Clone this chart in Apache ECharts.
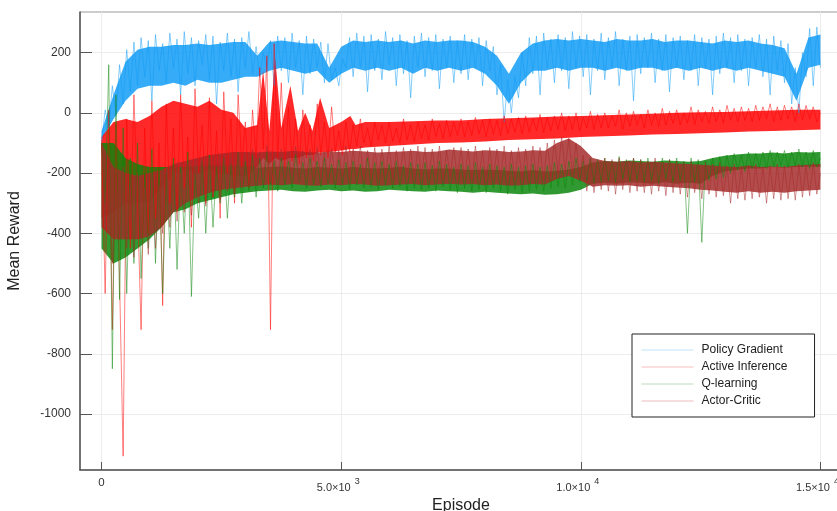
<!DOCTYPE html>
<html><head><meta charset="utf-8">
<script src="https://cdn.jsdelivr.net/npm/echarts@6/dist/echarts.min.js"></script>
<style>html,body{margin:0;padding:0;background:#fff}#c{width:837px;height:511px}</style>
</head><body><div id="c"></div>
<script>
// ---- episode samples for the spiky traces ----
const episodes = [0,75,150,225,300,375,450,525,600,675,750,825,900,975,1050,1125,1200,1275,1350,1425,1500,1575,1650,1725,1800,1875,1950,2025,2100,2175,2250,2325,2400,2475,2550,2625,2700,2775,2850,2925,3000,3075,3150,3225,3300,3375,3450,3525,3600,3675,3750,3825,3900,3975,4050,4125,4200,4275,4350,4425,4500,4575,4650,4725,4800,4875,4950,5025,5100,5175,5250,5325,5400,5475,5550,5625,5700,5775,5850,5925,6000,6075,6150,6225,6300,6375,6450,6525,6600,6675,6750,6825,6900,6975,7050,7125,7200,7275,7350,7425,7500,7575,7650,7725,7800,7875,7950,8025,8100,8175,8250,8325,8400,8475,8550,8625,8700,8775,8850,8925,9000,9075,9150,9225,9300,9375,9450,9525,9600,9675,9750,9825,9900,9975,10050,10125,10200,10275,10350,10425,10500,10575,10650,10725,10800,10875,10950,11025,11100,11175,11250,11325,11400,11475,11550,11625,11700,11775,11850,11925,12000,12075,12150,12225,12300,12375,12450,12525,12600,12675,12750,12825,12900,12975,13050,13125,13200,13275,13350,13425,13500,13575,13650,13725,13800,13875,13950,14025,14100,14175,14250,14325,14400,14475,14550,14625,14700,14775,14850,14925,15000];

const policyGradient = [
-100,10,-50,90,-10,160,30,210,70,235,
90,250,120,240,40,260,140,230,100,265,
150,245,60,270,130,250,90,240,160,260,
110,255,30,235,140,265,120,245,70,250,
150,270,130,220,120,200,150,240,90,255,
140,250,100,265,150,240,60,255,130,245,
150,235,100,230,110,150,90,180,150,250,
120,265,150,255,70,260,140,245,110,270,
160,250,90,260,130,240,50,255,150,265,
120,250,140,260,80,245,150,255,100,240,
130,260,110,245,150,250,90,240,140,220,
60,160,-30,110,0,120,50,200,90,250,
130,255,60,265,150,245,100,260,140,250,
80,270,150,255,120,260,60,245,140,265,
110,250,150,270,90,245,140,255,40,260,
130,250,150,265,100,245,140,260,70,250,
150,255,110,240,140,260,90,250,150,245,
60,255,130,265,150,250,100,260,140,245,
90,250,150,260,120,245,60,255,140,240,
100,230,30,150,0,200,120,280,90,285,150];

const activeInference = [
-90,-600,10,-720,-40,-550,-1140,-20,-450,60,
-300,-720,-50,-400,40,-350,-100,-640,30,-300,
-50,-330,60,-250,-80,-380,80,-200,-40,-300,
50,-280,-60,-350,70,-200,-20,-300,60,-180,
-30,-250,10,-150,150,-120,190,-720,230,-150,
100,-180,20,-160,-20,-170,10,-150,-40,-160,
30,-140,-30,-150,20,-130,-60,-140,-30,-130,
-40,-110,-20,-100,-50,-110,-30,-90,-40,-100,
-30,-95,-50,-100,-20,-90,-40,-95,-30,-85,
-40,-90,-20,-80,-35,-85,-25,-80,-30,-75,
-20,-80,-30,-75,-15,-70,-25,-80,-20,-70,
-25,-75,-10,-70,-20,-65,-15,-70,-10,-65,
-20,-60,-5,-65,-15,-60,-10,-55,0,-60,
-10,-55,0,-60,-15,-50,5,-55,-5,-50,
0,-50,-10,-45,10,-55,0,-45,5,-40,
-5,-50,10,-40,0,-45,15,-40,5,-35,
10,-40,0,-35,20,-40,10,-30,5,-35,
20,-30,10,-35,25,-25,15,-30,20,-25,
15,-30,25,-25,20,-20,30,-30,20,-25,
25,-20,20,-30,30,-25,25,-20,20,-30,0];

const qLearning = [
-100,-300,160,-850,60,-620,-50,-600,-150,-500,
-100,-550,-200,-450,-120,-500,-180,-600,-200,-450,
-150,-520,-180,-400,-130,-610,-200,-350,-160,-400,
-140,-380,-180,-300,-150,-350,-170,-280,-130,-300,
-160,-260,-140,-280,-150,-250,-130,-240,-160,-260,
-150,-240,-160,-250,-140,-230,-165,-250,-150,-240,
-160,-245,-150,-235,-170,-250,-155,-240,-165,-255,
-160,-240,-170,-250,-150,-245,-165,-255,-160,-240,
-170,-250,-160,-245,-175,-260,-165,-250,-170,-255,
-165,-250,-175,-260,-160,-245,-170,-255,-180,-265,
-170,-250,-175,-260,-165,-255,-180,-265,-170,-250,
-175,-260,-180,-270,-170,-255,-180,-265,-175,-260,
-170,-255,-180,-260,-175,-250,-165,-245,-170,-250,
-160,-240,-150,-230,-160,-225,-150,-235,-155,-230,
-150,-225,-160,-230,-145,-220,-155,-230,-150,-225,
-155,-230,-150,-225,-160,-235,-150,-220,-155,-230,
-150,-225,-160,-400,-150,-230,-155,-430,-160,-225,
-150,-220,-145,-215,-140,-200,-135,-190,-140,-195,
-130,-185,-135,-180,-130,-185,-125,-180,-130,-175,
-125,-180,-130,-175,-120,-180,-130,-185,-125,-180,-150];

const actorCritic = [
-100,-300,-150,-500,-200,-420,-180,-450,-250,-480,
-200,-420,-250,-470,-220,-450,-240,-400,-200,-380,
-180,-360,-200,-330,-170,-340,-190,-300,-160,-310,
-150,-280,-170,-290,-140,-260,-160,-270,-130,-250,
-140,-240,-120,-230,-130,-220,-110,-230,-130,-220,
-120,-220,-130,-210,-110,-225,-125,-215,-120,-220,
-115,-215,-130,-220,-120,-210,-125,-215,-110,-220,
-120,-210,-110,-225,-125,-215,-115,-220,-120,-210,
-110,-220,-125,-210,-115,-215,-120,-230,-110,-210,
-115,-220,-120,-215,-110,-225,-125,-210,-115,-220,
-115,-220,-120,-225,-110,-215,-125,-230,-115,-220,
-120,-225,-110,-230,-125,-220,-115,-225,-120,-230,
-110,-220,-115,-225,-100,-210,-90,-200,-80,-190,
-85,-200,-100,-215,-140,-260,-150,-265,-160,-255,
-150,-260,-155,-270,-150,-255,-160,-265,-150,-260,
-155,-265,-160,-270,-150,-260,-165,-275,-155,-265,
-160,-270,-165,-280,-160,-265,-170,-285,-165,-270,
-170,-280,-165,-275,-175,-300,-170,-285,-180,-290,
-175,-285,-170,-280,-180,-300,-175,-285,-170,-290,
-175,-285,-180,-290,-170,-280,-175,-275,-165,-270,-200];

// ---- dense core of each trace ----
const bandEpisodes = [0,250,500,750,1000,1250,1500,1750,2000,2250,2500,2750,3000,3250,3500,3750,4000,4250,4500,4750,5000,5250,5500,5750,6000,6250,6500,6750,7000,7250,7500,7750,8000,8250,8500,8750,9000,9250,9500,9750,10000,10250,10500,10750,11000,11250,11500,11750,12000,12250,12500,12750,13000,13250,13500,13750,14000,14250,14500,14750,15000];

const pgCoreLow = [-90,-20,40,80,90,90,100,90,110,100,100,110,120,120,140,150,140,130,140,100,130,150,140,150,140,150,130,150,140,150,140,150,130,90,30,100,140,140,150,140,150,150,140,150,140,150,150,140,150,140,150,140,150,140,150,140,130,120,40,150,160];
const pgCoreHigh = [-60,60,170,210,220,220,225,225,230,225,230,235,235,190,235,240,235,230,230,150,220,240,235,240,235,240,230,240,235,240,240,235,220,190,130,200,230,240,245,240,245,240,235,245,240,240,245,235,240,240,235,230,240,235,240,230,225,215,130,250,260];

const aiCoreEpisodes = [0,250,500,750,1000,1250,1500,1750,2000,2250,2500,2750,3000,3250,3370,3500,3625,3750,3940,4100,4250,4400,4560,4750,5000,5190,5300,5500,6000,6500,7000,7500,8000,8500,9000,9500,10000,10500,11000,11500,12000,12500,13000,13500,14000,14500,15000];
const aiCoreLow = [-350,-330,-300,-300,-290,-250,-200,-190,-200,-190,-200,-210,-210,-180,-150,-170,-150,-160,-150,-150,-140,-140,-130,-130,-125,-120,-120,-115,-110,-105,-100,-98,-95,-90,-88,-85,-80,-78,-75,-72,-70,-68,-65,-62,-60,-58,-55];
const aiCoreHigh = [-80,-30,-20,-30,-10,20,40,30,20,40,10,0,-50,-40,140,-60,180,-50,90,-60,0,-60,50,-50,-30,-10,-40,-30,-30,-28,-25,-25,-20,-18,-15,-12,-10,-8,-5,-3,0,2,3,5,8,10,10];

const qCoreLow = [-450,-500,-480,-450,-420,-380,-330,-320,-300,-290,-280,-270,-265,-260,-258,-255,-260,-262,-258,-255,-260,-258,-262,-260,-255,-258,-260,-262,-258,-260,-262,-265,-262,-265,-268,-270,-268,-272,-270,-265,-255,-235,-232,-235,-230,-232,-235,-230,-235,-232,-235,-210,-195,-190,-185,-185,-180,-182,-180,-178,-180];
const qCoreHigh = [-100,-100,-150,-170,-180,-180,-180,-180,-175,-175,-175,-175,-175,-182,-180,-178,-182,-185,-180,-182,-185,-180,-183,-185,-182,-180,-185,-188,-185,-185,-188,-190,-188,-190,-192,-195,-190,-195,-192,-188,-180,-165,-160,-162,-158,-160,-162,-158,-160,-162,-160,-150,-142,-138,-135,-135,-132,-135,-130,-132,-130];

const acCoreLow = [-380,-420,-420,-420,-410,-380,-330,-300,-280,-265,-255,-250,-245,-242,-238,-240,-236,-240,-242,-238,-240,-236,-238,-242,-240,-238,-236,-240,-238,-235,-238,-236,-240,-238,-242,-240,-236,-238,-220,-210,-225,-245,-240,-242,-240,-245,-242,-245,-248,-250,-255,-258,-262,-265,-260,-265,-262,-265,-260,-258,-255];
const acCoreHigh = [-100,-180,-200,-210,-200,-190,-170,-160,-150,-140,-135,-130,-130,-132,-128,-130,-126,-130,-132,-128,-130,-126,-128,-132,-130,-128,-126,-130,-128,-122,-125,-128,-124,-126,-130,-128,-124,-126,-100,-85,-110,-150,-160,-162,-160,-165,-162,-165,-168,-170,-172,-175,-178,-180,-175,-180,-178,-180,-175,-172,-170];

const seriesNames = ['Policy Gradient','Active Inference','Q-learning','Actor-Critic'];
const xTicks = [0,5000,10000,15000];
const xTickLabels = ['0','5.0×10|3','1.0×10|4','1.5×10|4'];
const yTicks = [-1000,-800,-600,-400,-200,0,200];

const colors = ['#0F9BF5','#FF0000','#0A850A','#A52A2A'];
const legendColors = ['#BFE2FB','#F9BDBD','#BCDCBC','#EDBDBD'];
const traces = [policyGradient, activeInference, qLearning, actorCritic];
const coreEpisodes = [bandEpisodes, aiCoreEpisodes, bandEpisodes, bandEpisodes];
const coresLow = [pgCoreLow, aiCoreLow, qCoreLow, acCoreLow];
const coresHigh = [pgCoreHigh, aiCoreHigh, qCoreHigh, acCoreHigh];

const chart = echarts.init(document.getElementById('c'), null, {renderer:'canvas'});
const font = 'Liberation Sans, Arial, Helvetica, sans-serif';

function bandSeries(i) {
  const ep = coreEpisodes[i], lo = coresLow[i], hi = coresHigh[i];
  return {
    name: seriesNames[i] + ' core', type: 'custom', silent: true, clip: true,
    data: ep.map((e, k) => [e, lo[k], hi[k]]),
    encode: {x: 0, y: [1, 2]},
    renderItem: function (params, api) {
      if (params.dataIndex !== 0) return;
      const top = [], bot = [];
      for (let k = 0; k < ep.length; k++) {
        top.push(api.coord([ep[k], hi[k]]));
        bot.push(api.coord([ep[k], lo[k]]));
      }
      return {type: 'polygon', shape: {points: top.concat(bot.reverse())},
              style: {fill: colors[i], opacity: 0.84}};
    }
  };
}
function lineSeries(i) {
  return {
    name: seriesNames[i], type: 'line', symbol: 'none', showSymbol: false,
    data: episodes.map((e, k) => [e, traces[i][k]]),
    lineStyle: {color: colors[i], width: 1, opacity: 0.5},
    itemStyle: {color: colors[i]},
    emphasis: {disabled: true}, silent: true
  };
}
const series = [];
for (let i = 0; i < 4; i++) { series.push(bandSeries(i)); series.push(lineSeries(i)); }

chart.setOption({
  animation: false,
  backgroundColor: '#fff',
  grid: {left: 80, top: 12, width: 762, bottom: 41, show: true, borderColor: '#9a9a9a', borderWidth: 1,
         outerBoundsMode: 'none', containLabel: false},
  xAxis: {
    type: 'value', min: -450, max: 15450,
    name: 'Episode', nameLocation: 'middle', nameGap: 27,
    nameTextStyle: {fontFamily: font, fontSize: 16, color: '#222'},
    axisLine: {show: true, onZero: false, lineStyle: {color: '#555', width: 1.5}},
    axisTick: {show: true, inside: true, length: 8, customValues: xTicks, lineStyle: {color: '#555', width: 1}},
    axisLabel: {
      customValues: xTicks, margin: 7, fontFamily: font, color: '#333', hideOverlap: false,
      formatter: function (v) {
        const s = xTickLabels[xTicks.indexOf(v)];
        if (!s) return '';
        const p = s.split('|');
        if (p.length === 1) return '{z|' + p[0] + '}';
        return '{m|' + p[0] + '}{s|' + p[1] + '}{r|}';
      },
      rich: {
        z: {fontSize: 11.5, fontFamily: font, color: '#333', lineHeight: 16, verticalAlign: 'top'},
        m: {fontSize: 11, fontFamily: font, color: '#333', lineHeight: 16, verticalAlign: 'bottom', padding: [7,0,0,0]},
        s: {fontSize: 9, fontFamily: font, color: '#333', lineHeight: 16, verticalAlign: 'top', padding: [0,0,0,4]},
        r: {width: 6, lineHeight: 16}
      }
    },
    splitLine: {show: true, lineStyle: {color: '#ececec', width: 1}}
  },
  yAxis: {
    type: 'value', min: -1186, max: 335,
    name: 'Mean Reward', nameLocation: 'middle', nameGap: 57,
    nameTextStyle: {fontFamily: font, fontSize: 16, color: '#222'},
    axisLine: {show: true, onZero: false, lineStyle: {color: '#555', width: 1.5}},
    axisTick: {show: true, inside: true, length: 12, customValues: yTicks, lineStyle: {color: '#555', width: 1}},
    axisLabel: {customValues: yTicks, margin: 9, fontFamily: font, fontSize: 12, color: '#333',
                formatter: function (v) { return String(v); }},
    splitLine: {show: true, lineStyle: {color: '#ececec', width: 1}}
  },
  legend: {
    orient: 'vertical', left: 632, top: 334,
    backgroundColor: '#fff', borderColor: '#222', borderWidth: 1,
    padding: [10, 27, 10, 9], itemGap: 5, itemWidth: 52, itemHeight: 12,
    textStyle: {fontFamily: font, fontSize: 12, color: '#222', padding: [0,0,0,3]},
    data: seriesNames.map((n, i) => ({name: n, itemStyle: {opacity: 0},
      lineStyle: {color: legendColors[i], width: 1, opacity: 1}}))
  },
  series: series
});
</script>
</body></html>
